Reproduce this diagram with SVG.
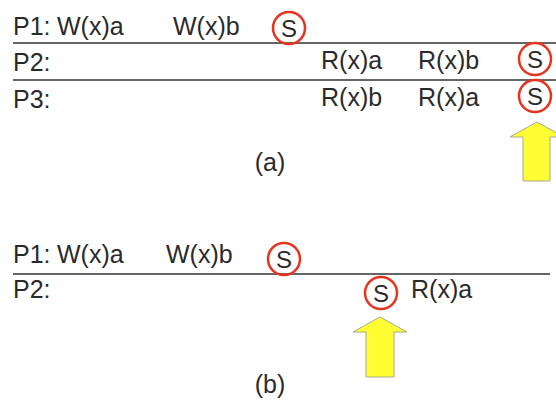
<svg xmlns="http://www.w3.org/2000/svg" width="556" height="403" viewBox="0 0 556 403">
<style>
text{font-family:"Liberation Sans",Arial,sans-serif;font-size:25px;fill:#2a2a2a}
.s{text-anchor:middle;font-size:24px}
.c{fill:none;stroke:#e5341f;stroke-width:2.5}
.ln{stroke:#666;stroke-width:2}
.arrow{fill:#ffff33;stroke:#a8a890;stroke-width:1}
</style>
<rect width="556" height="403" fill="#fff"/>
<g id="connectors">
<line class="ln" x1="13" y1="43" x2="556" y2="43"/>
<line class="ln" x1="13" y1="80" x2="556" y2="80"/>
<line class="ln" x1="13" y1="274" x2="550" y2="274"/>
</g>
<g id="a-p1">
<text x="13" y="35">P1: <tspan x="57">W(x)a</tspan></text>
<text x="173" y="35">W(x)b</text>
</g>
<g id="a-p1-s"><circle class="c" cx="289" cy="28" r="16"/><text class="s" x="289" y="36.5">S</text></g>
<g id="a-p2">
<text x="13" y="71">P2:</text>
<text x="321" y="69">R(x)a</text>
<text x="418" y="69">R(x)b</text>
</g>
<g id="a-p2-s"><circle class="c" cx="535" cy="59" r="16"/><text class="s" x="535" y="67.5">S</text></g>
<g id="a-p3">
<text x="13" y="108">P3:</text>
<text x="321" y="106">R(x)b</text>
<text x="418" y="106">R(x)a</text>
</g>
<g id="a-p3-s"><circle class="c" cx="535" cy="96" r="16"/><text class="s" x="535" y="104.5">S</text></g>
<g id="a-arrow"><path class="arrow" d="M537 122 L564 137 L550 137 L550 181 L523 181 L523 137 L510 137 Z"/></g>
<g id="a-label"><text x="270" y="171" text-anchor="middle">(a)</text></g>
<g id="b-p1">
<text x="13" y="263">P1: <tspan x="57">W(x)a</tspan></text>
<text x="166" y="263">W(x)b</text>
</g>
<g id="b-p1-s"><circle class="c" cx="284" cy="259" r="16"/><text class="s" x="284" y="267.5">S</text></g>
<g id="b-p2">
<text x="13" y="298">P2:</text>
<text x="411" y="298">R(x)a</text>
</g>
<g id="b-p2-s"><circle class="c" cx="381" cy="293" r="16"/><text class="s" x="381" y="301.5">S</text></g>
<g id="b-arrow"><path class="arrow" d="M380 317 L407 332 L394 332 L394 377 L366 377 L366 332 L353 332 Z"/></g>
<g id="b-label"><text x="270" y="393" text-anchor="middle">(b)</text></g>
</svg>
